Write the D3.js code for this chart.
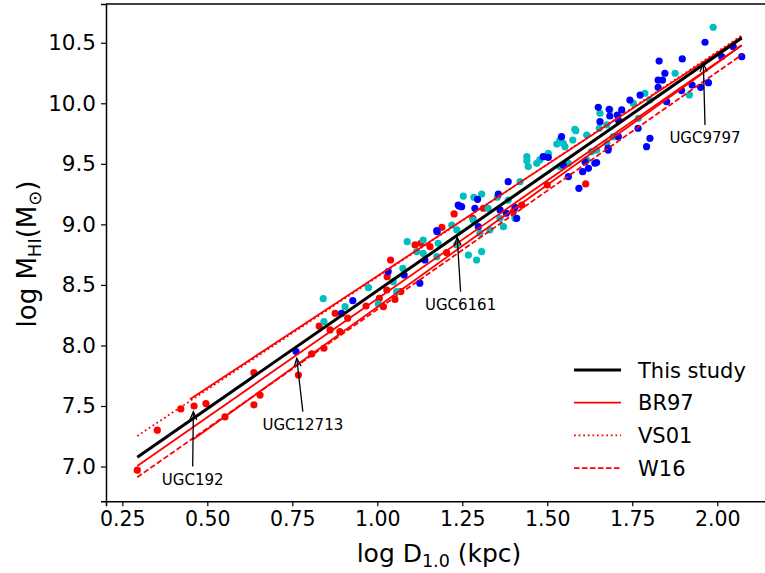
<!DOCTYPE html>
<html><head><meta charset="utf-8">
<script src="https://cdn.jsdelivr.net/npm/d3@7"></script>
<style>body{margin:0;background:#fff}svg{display:block}text{font-family:"DejaVu Sans",sans-serif}</style>
</head><body><svg id="c" width="765" height="573"></svg>
<script>
// ---- data ----
const redX=[0.294,0.353,0.422,0.461,0.496,0.552,0.637,0.637,0.655,0.768,0.807,0.843,0.89,0.861,0.829,0.876,0.913,0.967,1.018,1.006,1.052,1.069,1.028,1.029,1.039,1.111,1.128,1.155,1.19,1.226,1.204,1.281,1.40,1.425,1.50,1.613,1.312];
const redY=[6.97,7.30,7.476,7.50,7.52,7.41,7.775,7.51,7.59,7.756,7.93,7.977,8.114,8.128,8.16,8.266,8.225,8.326,8.32,8.39,8.38,8.444,8.458,8.568,8.706,8.83,8.844,8.816,8.976,9.086,8.766,9.05,9.105,9.16,9.325,9.334,9.133];
const tealX=[0.841,0.843,0.905,0.974,1.003,1.057,1.075,1.047,1.088,1.135,1.116,1.135,1.179,1.175,1.219,1.234,1.268,1.307,1.253,1.284,1.307,1.353,1.326,1.331,1.302,1.385,1.42,1.405,1.361,1.44,1.44,1.444,1.469,1.478,1.503,1.528,1.537,1.547,1.575,1.584,1.616,1.655,1.653,1.675,1.616,1.537,1.562,1.645,1.675,1.694,1.233,1.282,1.292,1.371,1.988,1.876,1.918,1.581,1.787,1.802,1.684,1.753,1.768,1.552,1.63];
const tealY=[8.386,8.197,8.32,8.477,8.343,8.444,8.637,8.527,8.857,8.871,8.775,8.761,8.844,8.733,8.995,8.954,8.747,8.775,9.234,9.224,9.251,9.224,9.133,8.954,8.927,9.20,9.353,9.05,9.05,9.559,9.526,9.477,9.504,9.532,9.587,9.664,9.697,9.67,9.697,9.774,9.738,9.917,9.794,9.821,9.532,9.477,9.504,9.614,9.67,9.724,8.83,9.036,8.706,8.981,10.628,10.248,10.069,9.785,10.083,10.027,9.945,10.0,9.876,9.642,9.60];
const blueX=[0.761,0.928,0.895,1.032,1.079,1.125,1.14,1.176,1.241,1.65,1.682,1.684,1.655,1.706,1.542,1.488,1.503,1.547,1.385,1.356,1.295,1.238,1.248,1.287,1.175,1.361,1.41,1.405,1.38,1.297,1.611,1.621,1.645,1.593,1.562,1.604,1.679,1.964,2.072,2.047,1.897,1.829,1.846,1.826,1.839,1.826,1.974,1.951,2.013,1.926,1.895,1.743,1.773,1.719,1.709,1.802,1.792,1.767,1.64,1.679,1.709,1.851];
const blueY=[7.95,8.37,8.266,8.61,8.582,8.514,8.706,8.94,9.152,9.967,9.95,9.895,9.848,9.903,9.724,9.559,9.554,9.49,9.353,9.251,9.207,9.16,9.146,9.133,8.948,9.119,9.05,9.141,9.092,8.981,9.518,9.463,9.51,9.298,9.394,9.435,9.614,10.504,10.385,10.467,10.366,10.349,10.248,10.192,10.192,10.132,10.17,10.132,10.385,10.151,10.105,10.027,10.068,9.945,9.862,9.711,9.642,9.794,9.505,9.628,9.724,10.013];
// relation lines: start/end in data units
const lineNames=["VS01","W16","BR97","BR97","BR97","This study"];
const lineStyle=["dotted","dashed","solid","solid","solid","black"];
const lineX0=[0.294,0.294,0.449,0.294,0.459,0.294];
const lineX1=[2.072,2.072,2.072,2.072,2.072,2.072];
const lineY0=[7.253,6.912,7.556,7.005,7.225,7.077];
const lineY1=[10.56,10.40,10.55,10.48,10.48,10.54];
const xTicks=[0.25,0.50,0.75,1.00,1.25,1.50,1.75,2.00];
const yTicks=[7.0,7.5,8.0,8.5,9.0,9.5,10.0,10.5];
const annNames=["UGC192","UGC12713","UGC6161","UGC9797"];
const annX=[0.459,0.763,1.235,1.959];
const annY=[7.453,7.894,8.893,10.33];
const annTX=[0.457,0.781,1.245,1.964];
const annTY=[7.0,7.453,8.444,9.821];
const legendNames=["This study","BR97","VS01","W16"];
const legendStyle=["black","solid","dotted","dashed"];

// ---- chart ----
const svg=d3.select("#c");
const x=d3.scaleLinear().domain([0.202,2.161]).range([106,772]);
const y=d3.scaleLinear().domain([6.713,10.82]).range([501.3,4]);
const RED="#ff0000",BLUE="#0000ff",TEAL="#00bfbf";
const styles={
  black:{stroke:"#000",w:3,dash:null},
  solid:{stroke:RED,w:1.8,dash:null},
  dotted:{stroke:RED,w:1.8,dash:"1.8,2.8"},
  dashed:{stroke:RED,w:1.8,dash:"5.5,2.5"}
};
const g=svg.append("g");
function pts(X,Y,col){
  g.selectAll(null).data(X.map((v,i)=>[v,Y[i]])).enter().append("circle")
   .attr("cx",d=>x(d[0])).attr("cy",d=>y(d[1])).attr("r",3.6).attr("fill",col);
}
pts(redX,redY,RED);pts(tealX,tealY,TEAL);pts(blueX,blueY,BLUE);
// lines
lineNames.forEach((n,i)=>{
  const s=styles[lineStyle[i]];
  g.append("line").attr("x1",x(lineX0[i])).attr("y1",y(lineY0[i]))
   .attr("x2",x(lineX1[i])).attr("y2",y(lineY1[i]))
   .attr("stroke",s.stroke).attr("stroke-width",s.w)
   .attr("stroke-dasharray",s.dash);
});
// annotations
annNames.forEach((n,i)=>{
  const x1=x(annTX[i]),y1=y(annTY[i]),x2=x(annX[i]),y2=y(annY[i]);
  g.append("line").attr("x1",x1).attr("y1",y1).attr("x2",x2).attr("y2",y2).attr("stroke","#000").attr("stroke-width",1.3);
  const ang=Math.atan2(y2-y1,x2-x1),L=9,a=0.4;
  const p=[[x2-L*Math.cos(ang-a),y2-L*Math.sin(ang-a)],[x2,y2],[x2-L*Math.cos(ang+a),y2-L*Math.sin(ang+a)]];
  g.append("path").attr("d",d3.line()(p)).attr("fill","none").attr("stroke","#000").attr("stroke-width",1.3);
  g.append("text").attr("x",x1).attr("y",y1+18.5).attr("text-anchor","middle").attr("font-size",15).text(n);
});
// axes
const xa=svg.append("g").attr("transform","translate(0,501.3)")
  .call(d3.axisBottom(x).tickValues(xTicks).tickFormat(d3.format(".2f")).tickSize(5).tickPadding(5));
const ya=svg.append("g").attr("transform","translate(106,0)")
  .call(d3.axisLeft(y).tickValues(yTicks).tickFormat(d3.format(".1f")).tickSize(5).tickPadding(5));
[xa,ya].forEach(a=>{a.selectAll("text").attr("font-size",20.5).attr("font-family","DejaVu Sans").attr("fill","#000");
  a.selectAll("line").attr("stroke","#000").attr("stroke-width",1.2);
  a.select(".domain").attr("stroke","#000").attr("stroke-width",1.5);});
ya.selectAll("text").attr("font-size",21.5);
svg.append("line").attr("x1",106).attr("x2",772).attr("y1",4).attr("y2",4).attr("stroke","#000").attr("stroke-width",1.5);
// axis labels
const xl=svg.append("text").attr("x",439).attr("y",562).attr("text-anchor","middle").attr("font-size",25);
xl.append("tspan").text("log D");
xl.append("tspan").attr("font-size",17.5).attr("dy",5).text("1.0");
xl.append("tspan").attr("dy",-5).text(" (kpc)");
const yl=svg.append("text").attr("transform","translate(36,254) rotate(-90)").attr("text-anchor","middle").attr("font-size",26);
yl.append("tspan").text("log M");
yl.append("tspan").attr("font-size",18).attr("dy",5).text("HI");
yl.append("tspan").attr("dy",-5).text("(M");
yl.append("tspan").attr("font-size",18).attr("dy",5).text("⊙");
yl.append("tspan").attr("dy",-5).text(")");
// legend
legendNames.forEach((n,i)=>{
  const s=styles[legendStyle[i]],yy=370+i*32.7;
  svg.append("line").attr("x1",574).attr("x2",621).attr("y1",yy).attr("y2",yy)
   .attr("stroke",s.stroke).attr("stroke-width",s.w).attr("stroke-dasharray",s.dash);
  svg.append("text").attr("x",638).attr("y",yy+7.5).attr("font-size",21).text(n);
});
</script></body></html>
